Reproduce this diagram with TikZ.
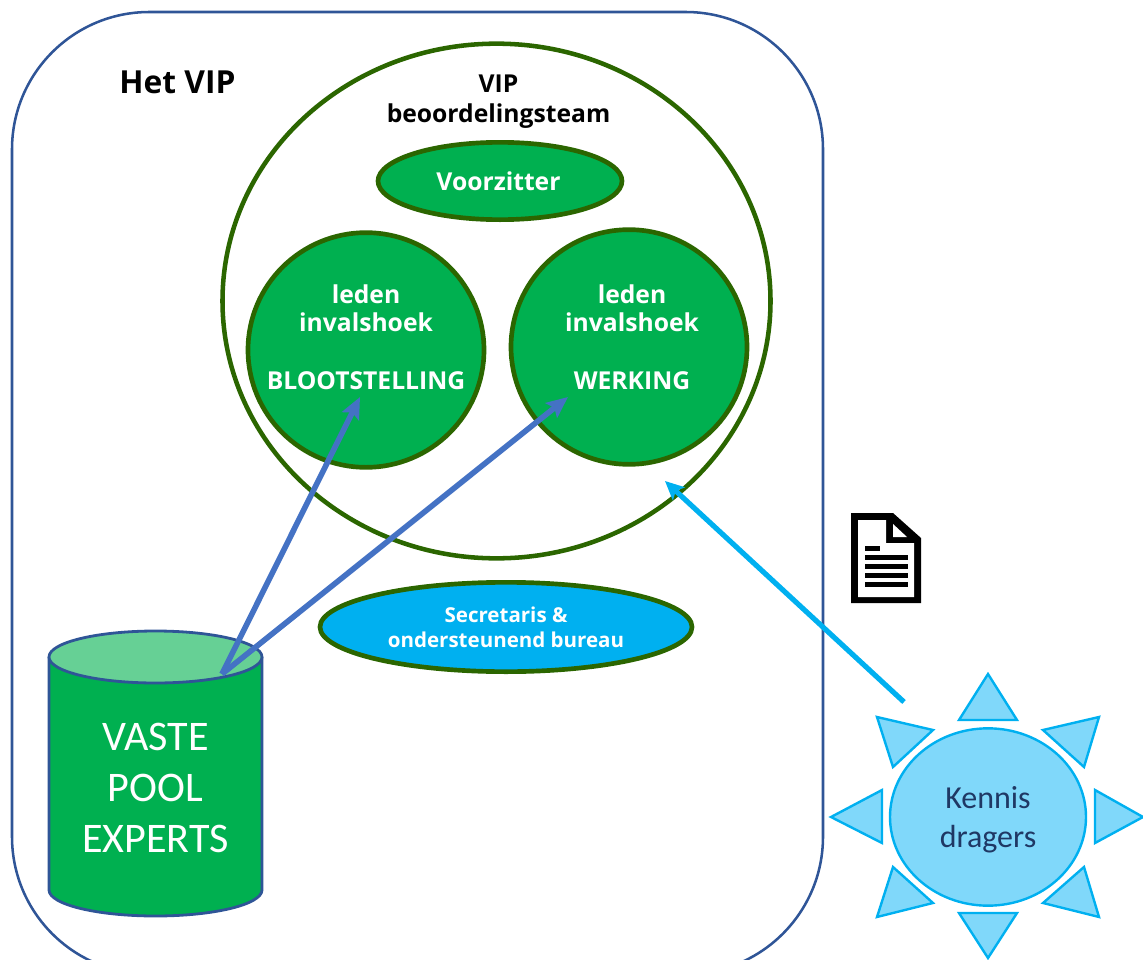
\documentclass[tikz,border=0pt]{standalone}
\usepackage{fontspec}
\setmainfont{Open Sans}
\newfontfamily\calfont{Carlito}
\usetikzlibrary{shapes, arrows.meta, positioning, calc}
\definecolor{vipnavy}{RGB}{47, 85, 151}
\definecolor{vipgreen}{RGB}{0, 176, 80}
\definecolor{viprim}{RGB}{43, 102, 0}
\definecolor{viplight}{RGB}{102, 208, 149}
\definecolor{vipsky}{RGB}{0, 176, 240}
\definecolor{sunfill}{RGB}{128, 216, 250}
\definecolor{arrowblue}{RGB}{68, 114, 196}
\definecolor{sunink}{RGB}{31, 56, 100}

\begin{document}
\begin{tikzpicture}[
  x=0.75pt, y=-0.75pt,
  ledenbox/.style={ellipse, draw=viprim, fill=vipgreen, line width=3.5pt, inner sep=0pt},
  ledentext/.style={text=white, align=center, font=\bfseries\fontsize{18.5}{21.4}\selectfont},
  ray/.style={draw=vipsky, fill=sunfill, line width=1.8pt, line join=miter},
  poolarrow/.style={draw=arrowblue, line width=4.2pt, -{Stealth[length=16pt, width=14pt, inset=3pt]}},
  docarrow/.style={draw=vipsky, line width=3.9pt, -{Stealth[length=14pt, width=13pt, inset=3pt]}}
]
  \clip (0,0) rectangle (1143,960);
  \draw[vipnavy, line width=1.9pt, rounded corners=103pt] (12,12) rectangle (823,974);

  \node[ellipse, draw=viprim, line width=3.4pt, inner sep=0pt, minimum width=411pt, minimum height=386pt] (team) at (496.5,301) {};
  \node[font=\bfseries\fontsize{23.8}{25}\selectfont] (vip) at (177.5,82) {Het VIP};
  \node[font=\bfseries\fontsize{18.5}{22.5}\selectfont, align=center] (teamlabel) at (498.5,102) {VIP\\beoordelingsteam};

  \node[ledenbox, minimum width=183pt, minimum height=58pt] (voorzitter) at (500,181) {};
  \node[ledentext] (voorzittertext) at (498.5,181) {Voorzitter};

  \node[ledenbox, minimum width=177pt, minimum height=176pt] (bloot) at (366,350) {};
  \node[ledenbox, minimum width=177pt, minimum height=176pt] (werking) at (629,347) {};
  \node[ledentext] (blootlabel) at (366,337) {leden\\invalshoek\\[21.4pt]BLOOTSTELLING};
  \node[ledentext] (werkinglabel) at (632,337) {leden\\invalshoek\\[21.4pt]WERKING};

  \node[ellipse, draw=viprim, fill=vipsky, line width=3.5pt, inner sep=0pt, minimum width=279pt, minimum height=67pt] (bureau) at (506,627) {};
  \node[text=white, align=center, font=\bfseries\fontsize{15.4}{18.6}\selectfont] (bureaulabel) at (506,627) {Secretaris \&\\ondersteunend bureau};

  \draw[vipnavy, fill=vipgreen, line width=2.1pt] (49,657) -- (49,890) arc[start angle=180, end angle=0, x radius=106.5, y radius=26] -- (262,657);
  \draw[vipnavy, fill=viplight, line width=2.1pt] (155.5,657) ellipse[x radius=106.5, y radius=26];
  \node[text=white, align=center, font=\calfont\fontsize{31.6}{38.2}\selectfont] (pool) at (155.5,788) {VASTE\\POOL\\EXPERTS};

  \coordinate (poolout) at (222,674);
  \coordinate (blootin) at (360,397);
  \coordinate (werkingin) at (568,397);
  \draw[poolarrow] (poolout) -- (blootin);
  \draw[poolarrow] (poolout) -- (werkingin);

  \foreach \ax/\ay/\bx/\by/\cx/\cy in {
    988/674/959/720/1017/720,
    1099/717/1043/730/1084/767,
    1143/817/1095/790/1095/843,
    1099/917/1043/903/1084/867,
    988/958/959/913/1017/913,
    877/917/933/903/893/867,
    831/817/882/790/882/843,
    877/717/933/730/893/767}{
    \draw[ray] (\ax,\ay) -- (\bx,\by) -- (\cx,\cy) -- cycle;
  }
  \node[ellipse, draw=vipsky, fill=sunfill, line width=1.8pt, inner sep=0pt, minimum width=147pt, minimum height=133pt] (kennis) at (988,817) {};
  \node[text=sunink, align=center, font=\calfont\fontsize{24}{29.2}\selectfont] (kennislabel) at (988,820) {Kennis\\dragers};

  \coordinate (kennisout) at (904,702);
  \coordinate (teamin) at (665,481);
  \draw[docarrow] (kennisout) -- (teamin);

  \fill[black] (851,513) -- (893,513) -- (921,538) -- (921,603) -- (851,603) -- cycle;
  \fill[white] (858,520) -- (886,520) -- (886,543) -- (914,543) -- (914,597) -- (858,597) -- cycle;
  \fill[white] (893,524) -- (907,537) -- (893,537) -- cycle;
  \fill[black] (865,546) rectangle (880,551);
  \foreach \liney in {555,564,573,582}{
    \fill[black] (865,\liney) rectangle (908,\liney+5);
  }
\end{tikzpicture}
\end{document}
